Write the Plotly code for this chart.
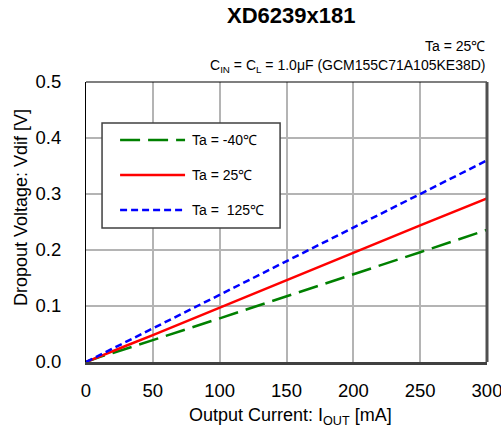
import plotly.graph_objects as go

current = [0, 10, 20, 30, 50, 100, 150, 200, 250, 300]
v_m40 = [0, 0.009, 0.016, 0.024, 0.039, 0.078, 0.117, 0.156, 0.196, 0.236]
v_25 = [0, 0.010, 0.020, 0.029, 0.048, 0.097, 0.146, 0.196, 0.244, 0.292]
v_125 = [0, 0.012, 0.024, 0.036, 0.060, 0.120, 0.180, 0.240, 0.300, 0.360]
names = ["Ta = -40℃", "Ta = 25℃", "Ta =  125℃"]
colors = ["#008000", "#ff0000", "#0000ff"]
dashes = ["20px,8px", "solid", "7px,4px"]
x_ticks = [0, 50, 100, 150, 200, 250, 300]
y_ticks = [0.0, 0.1, 0.2, 0.3, 0.4, 0.5]

FONT = "Liberation Sans, Arial, sans-serif"

fig = go.Figure()
for vals, nm, col, ds in zip([v_m40, v_25, v_125], names, colors, dashes):
    fig.add_trace(go.Scatter(x=current, y=vals, mode="lines", name=nm, showlegend=False,
                             line=dict(color=col, width=2.5, dash=ds)))

fig.update_layout(
    width=501, height=434,
    margin=dict(l=86, r=14, t=82, b=72),
    paper_bgcolor="white", plot_bgcolor="white",
    font=dict(family=FONT, color="black"),
    showlegend=False,
)
fig.update_xaxes(range=[0, 300], tickvals=x_ticks, showgrid=True, gridcolor="#b4b4b4", gridwidth=1.5,
                 zeroline=False, showline=True, linecolor="#404040", linewidth=3, automargin=False,
                 ticks="", tickfont=dict(size=18.5), ticklabelstandoff=10, ticklabeloverflow="allow")
fig.update_yaxes(range=[0, 0.5], tickvals=y_ticks, tickformat=".1f", showgrid=True, gridcolor="#b4b4b4",
                 gridwidth=1.5, zeroline=False, showline=True, linecolor="black", linewidth=1.2,
                 automargin=False, ticks="", tickfont=dict(size=18.5), ticklabelstandoff=20)
# top and right borders
fig.add_shape(type="line", xref="x domain", yref="y domain", x0=0, x1=1, y0=1, y1=1,
              line=dict(color="black", width=1.2))
fig.add_shape(type="line", xref="x domain", yref="y domain", x0=1, x1=1, y0=0, y1=1,
              line=dict(color="#505050", width=3))

# legend box (manual)
fig.add_shape(type="rect", xref="paper", yref="paper", x0=0.040, x1=0.484, y0=0.479, y1=0.854,
              fillcolor="white", line=dict(color="#404040", width=1.5), layer="above")
leg_y = [0.793, 0.668, 0.543]
for ly, nm, col, ds in zip(leg_y, names, colors, dashes):
    fig.add_shape(type="line", xref="paper", yref="paper", x0=0.085, x1=0.247, y0=ly, y1=ly,
                  line=dict(color=col, width=2.5, dash=ds), layer="above")
    fig.add_annotation(text=nm, xref="paper", yref="paper", x=0.259, y=ly, xanchor="left",
                       yanchor="middle", showarrow=False, font=dict(size=14))

# titles
fig.add_annotation(text="<b>XD6239x181</b>", xref="paper", yref="paper", x=0.511, y=1.2375,
                   xanchor="center", yanchor="middle", showarrow=False, font=dict(size=22))
fig.add_annotation(text="Output Current: I<sub>OUT</sub> [mA]", xref="paper", yref="paper",
                   x=0.509, y=-0.195, xanchor="center", yanchor="middle", showarrow=False,
                   font=dict(size=18))
fig.add_annotation(text="Dropout Voltage: Vdif [V]", xref="paper", yref="paper", x=-0.162, y=0.55,
                   xanchor="center", yanchor="middle", textangle=-90, showarrow=False,
                   font=dict(size=18))
fig.add_annotation(text="Ta = 25℃", xref="paper", yref="paper", x=1.0, y=1.129,
                   xanchor="right", yanchor="middle", showarrow=False, font=dict(size=14))
fig.add_annotation(text="C<sub>IN</sub> = C<sub>L</sub> = 1.0μF (GCM155C71A105KE38D)", xref="paper",
                   yref="paper", x=1.0, y=1.057, xanchor="right", yanchor="middle",
                   showarrow=False, font=dict(size=14))

fig.write_html("out.html", config={"displayModeBar": False},
               post_script="document.body.style.margin='0px';")
